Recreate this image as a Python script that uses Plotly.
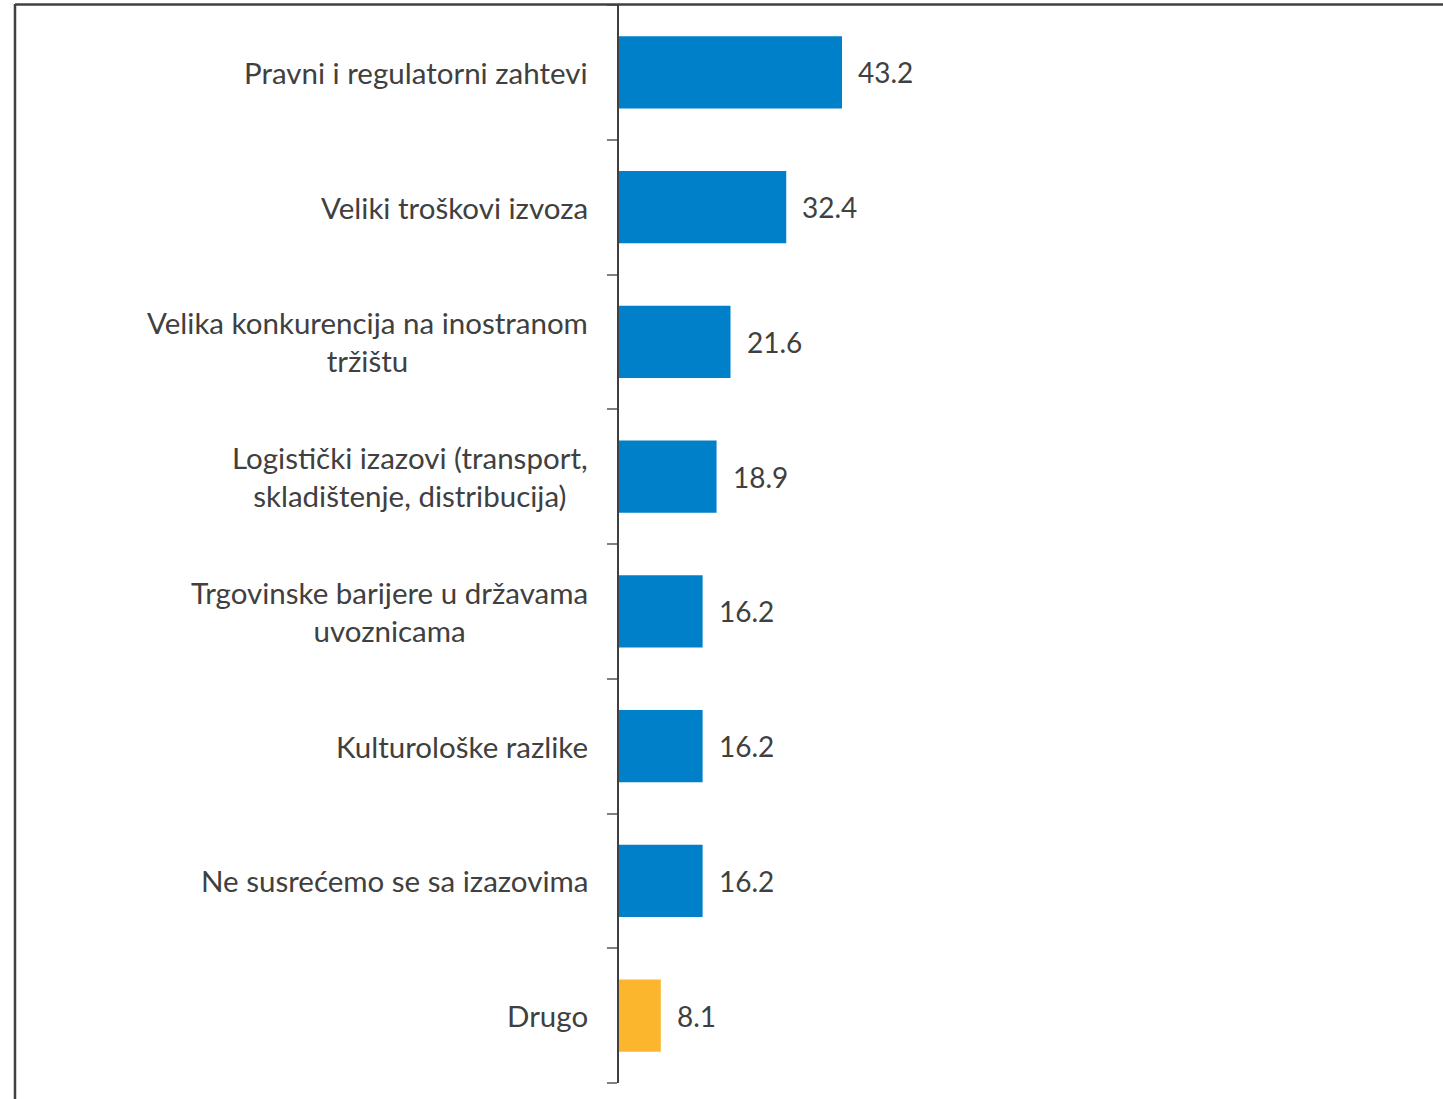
import plotly.graph_objects as go

categories = [
    "Pravni i regulatorni zahtevi",
    "Veliki troškovi izvoza",
    "Velika konkurencija na inostranom<br>tržištu",
    "Logistički izazovi (transport,<br>skladištenje, distribucija)",
    "Trgovinske barijere u državama<br>uvoznicama",
    "Kulturološke razlike",
    "Ne susrećemo se sa izazovima",
    "Drugo",
]
values = [43.2, 32.4, 21.6, 18.9, 16.2, 16.2, 16.2, 8.1]
colors = ["#0080C8"] * 7 + ["#FBB62D"]
value_labels = [f"{v:.1f}" for v in values]

W, H = 1443, 1099
ML, MR, MT, MB = 619, 0, 5, 16
pw = W - ML - MR
px_per_unit = 223 / 43.2
xmax = pw / px_per_unit

ids = list(range(len(categories)))

fig = go.Figure()
fig.add_trace(go.Bar(
    y=ids, x=values, orientation="h",
    marker=dict(color=colors, line=dict(width=0)),
    hoverinfo="skip",
))

font_family = "Lato, 'Open Sans', sans-serif"
annotations = []
for i, (c, v, t) in enumerate(zip(categories, values, value_labels)):
    annotations.append(dict(
        x=0, y=i, xref="x", yref="y", text=c, showarrow=False,
        xanchor="right", yanchor="middle", align="center", xshift=-29,
        font=dict(family=font_family, size=29.5, color="#404040"),
    ))
    annotations.append(dict(
        x=v, y=i, xref="x", yref="y", text=t, showarrow=False,
        xanchor="left", yanchor="middle", xshift=14,
        font=dict(family=font_family, size=28, color="#404040"),
    ))

shapes = [
    dict(type="line", xref="paper", yref="paper",
         x0=(15 - ML) / pw, x1=(15 - ML) / pw, y0=-1, y1=(H - MB - 4) / (H - MT - MB),
         line=dict(color="#404040", width=2.5)),
    dict(type="line", xref="paper", yref="paper",
         x0=(15 - ML) / pw, x1=1.1, y0=(H - MB - 4.5) / (H - MT - MB), y1=(H - MB - 4.5) / (H - MT - MB),
         line=dict(color="#404040", width=2.5)),
]

fig.update_layout(
    width=W, height=H,
    margin=dict(l=ML, r=MR, t=MT, b=MB, pad=0),
    plot_bgcolor="white", paper_bgcolor="white",
    bargap=0.465,
    showlegend=False,
    annotations=annotations,
    shapes=shapes,
    xaxis=dict(range=[0, xmax], visible=False, fixedrange=True),
    yaxis=dict(
        range=[len(categories) - 0.5, -0.5],
        tickmode="array", tickvals=[i - 0.5 for i in range(len(categories) + 1)],
        ticktext=[""] * (len(categories) + 1),
        showticklabels=False,
        ticks="outside", ticklen=10, tickcolor="#808080", tickwidth=1.5,
        showline=True, linecolor="#404040", linewidth=1.5,
        showgrid=False, zeroline=False,
    ),
)

fig.write_html("out.html")
